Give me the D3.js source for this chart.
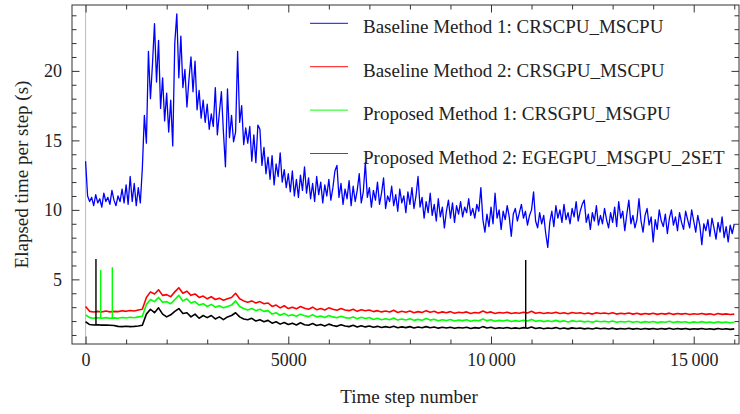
<!DOCTYPE html>
<html>
<head>
<meta charset="utf-8">
<script src="https://cdnjs.cloudflare.com/ajax/libs/d3/7.8.5/d3.min.js"></script>
<style>
  body { margin: 0; background: #fff; }
  text { font-family: "Liberation Serif", "Times New Roman", serif; fill: #222; }
</style>
</head>
<body>
<svg width="740" height="414"></svg>
<script>
// step spacing of the sampled series
var blueStep = 50, gpuStep = 100;

// Baseline Method 1 (CPU), one value every 50 steps
var blueValues = [
  13.5, 11.0, 10.6, 10.9, 10.3, 11.1, 10.5, 10.8, 10.2, 11.2, 10.6, 10.9, 10.4, 11.4, 10.7, 10.3, 11.0, 10.6, 11.5, 10.5,
  11.8, 10.4, 12.4, 10.6, 11.9, 10.3, 11.6, 10.5, 13.0, 16.8, 14.8, 21.4, 18.0, 20.5, 23.4, 19.2, 22.2, 17.3, 19.5, 16.4,
  18.4, 15.6, 17.9, 14.6, 22.0, 24.1, 19.5, 22.5, 18.8, 20.1, 17.4, 19.4, 21.0, 18.5, 20.7, 17.2, 18.6, 16.6, 17.9, 16.3,
  17.6, 15.8, 16.9, 16.0, 18.8, 15.4, 17.0, 18.5, 15.6, 13.1, 18.7, 15.2, 16.8, 14.9, 15.6, 21.4, 16.3, 17.5, 14.7, 15.9,
  14.8, 16.0, 13.5, 15.4, 13.4, 16.1, 15.8, 13.2, 14.5, 12.6, 13.8, 12.2, 13.9, 11.8, 13.3, 12.4, 14.1, 12.0, 12.9, 11.6,
  12.6, 11.3, 12.8, 11.0, 12.2, 10.9, 12.5, 11.4, 13.1, 11.2, 12.3, 10.8, 11.9, 10.6, 12.4, 11.1, 12.0, 10.5, 11.8, 11.0,
  12.2, 10.7, 11.6, 12.8, 13.2, 10.9, 11.9, 10.4, 11.5, 10.8, 12.1, 10.3, 11.7, 10.6, 11.4, 12.6, 10.5, 11.3, 13.4, 10.9,
  11.6, 10.2, 11.4, 10.7, 12.0, 10.4, 11.2, 12.3, 10.1, 11.0, 10.6, 11.7, 10.3, 11.1, 9.9, 11.5, 10.5, 11.0, 9.8, 11.3,
  10.4, 11.6, 10.1, 11.0, 12.4, 10.2, 10.9, 9.4, 10.6, 9.8, 11.2, 9.6, 10.4, 9.2, 10.8, 9.5, 10.2, 8.7, 9.9, 10.7,
  9.4, 10.5, 9.1, 10.3, 9.7, 10.6, 9.5, 10.2, 9.8, 10.8, 9.6, 10.1, 9.4, 10.4, 9.9, 11.6, 9.3, 8.4, 9.7, 8.8,
  10.2, 9.0, 11.2, 9.4, 10.0, 8.6, 9.9, 9.3, 10.3, 9.5, 8.1, 9.7, 10.1, 9.2, 9.8, 10.4, 9.4, 9.9, 8.9, 9.6,
  10.0, 11.3, 9.2, 8.7, 9.8, 9.0, 9.6, 8.3, 7.3, 9.1, 9.9, 8.8, 10.3, 9.4, 10.0, 9.1, 10.4, 9.3, 9.8, 9.0,
  10.1, 9.5, 10.6, 9.2, 9.9, 10.4, 10.7, 9.1, 9.7, 8.6, 9.8, 9.2, 10.3, 8.9, 9.6, 9.0, 10.1, 9.3, 8.7, 9.8,
  9.1, 10.2, 8.8, 10.6, 9.4, 9.9, 8.5, 9.7, 10.7, 9.0, 9.6, 8.7, 9.3, 10.8, 9.2, 8.4, 9.6, 10.1, 8.9, 9.5,
  7.7, 9.3, 8.6, 10.0, 9.2, 8.8, 9.7, 8.3, 9.4, 10.0, 8.9, 9.5, 8.5, 9.8, 9.1, 8.6, 9.9, 9.3, 8.7, 10.0,
  9.2, 8.4, 9.6, 8.9, 7.5, 9.0, 8.5, 9.3, 8.1, 9.4, 8.7, 7.9, 9.1, 8.4, 9.5, 8.0, 8.8, 7.7, 8.9, 8.3, 9.0
];

// Baseline Method 2, one value every 100 steps
var redValues = [
  3.05, 2.7, 2.65, 2.7, 2.65, 2.72, 2.66, 2.7, 2.68, 2.74, 2.7, 2.76, 2.72, 2.8, 2.85, 3.7, 4.1, 3.95, 4.25, 3.85,
  3.9, 3.75, 4.1, 4.4, 4.0, 4.15, 3.85, 3.95, 3.7, 3.8, 3.6, 3.75, 3.55, 3.65, 3.5, 3.6, 3.7, 4.0, 3.6, 3.45,
  3.35, 3.45, 3.3, 3.4, 3.25, 3.3, 3.05, 3.15, 2.95, 3.1, 2.9, 3.0, 2.88, 3.05, 2.92, 2.85, 3.0, 2.82, 2.9, 2.8,
  2.95, 2.85, 2.78, 2.9, 2.8, 2.75, 2.85, 2.7, 2.82, 2.74, 2.8, 2.68, 2.75, 2.66, 2.72, 2.65, 2.78, 2.62, 2.7, 2.64,
  2.72, 2.6, 2.68, 2.62, 2.75, 2.64, 2.7, 2.58, 2.66, 2.6, 2.68, 2.56, 2.64, 2.6, 2.66, 2.55, 2.62, 2.58, 2.72, 2.6,
  2.66, 2.55, 2.62, 2.58, 2.64, 2.54, 2.6, 2.56, 2.64, 2.58, 2.7, 2.56, 2.62, 2.54, 2.6, 2.56, 2.63, 2.55, 2.6, 2.52,
  2.62, 2.56, 2.6, 2.53, 2.58, 2.5, 2.6, 2.54, 2.58, 2.52, 2.6, 2.5, 2.56, 2.52, 2.58, 2.5, 2.56, 2.48, 2.55, 2.5,
  2.56, 2.48, 2.54, 2.5, 2.57, 2.48, 2.55, 2.5, 2.54, 2.47, 2.53, 2.49, 2.55, 2.48, 2.52, 2.46, 2.54, 2.48, 2.52, 2.47,
  2.5
];

// Proposed Method 1, one value every 100 steps
var greenValues = [
  2.45, 2.25, 2.2, 2.24, 2.2, 2.25, 2.2, 2.23, 2.2, 2.26, 2.22, 2.27, 2.24, 2.3, 2.35, 3.2, 3.55, 3.4, 3.7, 3.35,
  3.4, 3.25, 3.55, 3.85, 3.45, 3.6, 3.3, 3.4, 3.15, 3.25, 3.05, 3.2, 3.0, 3.1, 2.95, 3.05, 3.15, 3.45, 3.05, 2.9,
  2.8, 2.9, 2.75, 2.85, 2.7, 2.75, 2.5, 2.6, 2.42, 2.55, 2.38, 2.45, 2.35, 2.5, 2.38, 2.32, 2.45, 2.3, 2.36, 2.26,
  2.4, 2.3, 2.24, 2.35, 2.25, 2.2, 2.3, 2.16, 2.27, 2.18, 2.25, 2.12, 2.2, 2.1, 2.17, 2.1, 2.22, 2.07, 2.15, 2.08,
  2.16, 2.05, 2.12, 2.06, 2.18, 2.07, 2.13, 2.02, 2.1, 2.04, 2.11, 2.0, 2.08, 2.03, 2.1, 1.99, 2.06, 2.02, 2.15, 2.03,
  2.09, 1.98, 2.05, 2.0, 2.07, 1.97, 2.03, 1.99, 2.06, 2.0, 2.12, 1.98, 2.04, 1.96, 2.02, 1.97, 2.05, 1.96, 2.02, 1.94,
  2.03, 1.97, 2.01, 1.94, 1.99, 1.92, 2.01, 1.95, 1.99, 1.93, 2.0, 1.91, 1.97, 1.93, 1.99, 1.91, 1.97, 1.89, 1.96, 1.91,
  1.97, 1.89, 1.95, 1.91, 1.98, 1.89, 1.96, 1.91, 1.95, 1.88, 1.94, 1.9, 1.96, 1.89, 1.93, 1.87, 1.95, 1.89, 1.93, 1.88,
  1.92
];

// Proposed Method 2, one value every 100 steps
var blackValues = [
  1.95, 1.75, 1.72, 1.73, 1.71, 1.72, 1.7, 1.68, 1.62, 1.6, 1.63, 1.6, 1.62, 1.65, 1.7, 2.5, 2.85, 2.6, 2.95, 2.5,
  2.3, 2.45, 2.7, 2.9, 2.55, 2.6, 2.3, 2.5, 2.2, 2.4, 2.25, 2.4, 2.15, 2.3, 2.1, 2.3, 2.4, 2.6, 2.3, 2.15,
  2.1, 2.2, 2.0, 2.1, 1.95, 2.05, 1.85, 1.95, 1.78, 1.9, 1.75, 1.85, 1.72, 1.88, 1.74, 1.7, 1.82, 1.68, 1.76, 1.65,
  1.78, 1.68, 1.62, 1.74, 1.64, 1.6, 1.7, 1.57, 1.66, 1.58, 1.64, 1.55, 1.62, 1.54, 1.6, 1.54, 1.63, 1.52, 1.58, 1.53,
  1.6, 1.5, 1.57, 1.52, 1.6, 1.52, 1.57, 1.49, 1.55, 1.5, 1.56, 1.48, 1.54, 1.5, 1.56, 1.47, 1.53, 1.49, 1.6, 1.5,
  1.55, 1.47, 1.52, 1.48, 1.54, 1.46, 1.51, 1.47, 1.53, 1.48, 1.57, 1.46, 1.52, 1.45, 1.5, 1.46, 1.53, 1.45, 1.5, 1.44,
  1.51, 1.46, 1.5, 1.44, 1.48, 1.43, 1.5, 1.45, 1.48, 1.43, 1.49, 1.42, 1.47, 1.43, 1.48, 1.42, 1.47, 1.41, 1.46, 1.42,
  1.47, 1.41, 1.46, 1.42, 1.48, 1.41, 1.46, 1.42, 1.46, 1.4, 1.45, 1.42, 1.47, 1.41, 1.45, 1.4, 1.46, 1.41, 1.45, 1.4,
  1.44
];

// single-step spikes: [step, base value, peak value]
var greenSpikes = [[372, 2.22, 5.67], [659, 2.2, 5.88]];
var blackSpikes = [[256, 1.72, 6.46], [10856, 1.5, 6.4]];

var seriesNames = [
  "Baseline Method 1: CRSCPU_MSCPU",
  "Baseline Method 2: CRSGPU_MSCPU",
  "Proposed Method 1: CRSGPU_MSGPU",
  "Proposed Method 2: EGEGPU_MSGPU_2SET"
];
var seriesColors = ["#0000ff", "#ff0000", "#00ff00", "#000000"];
var legendColors = ["#3c3cff", "#ff3c3c", "#3cff3c", "#555555"];

var xMajorTicks = [0, 5000, 10000, 15000];
var xTickLabels = ["0", "5000", "10\u2009000", "15\u2009000"];
var yMajorTicks = [5, 10, 15, 20];
var yTickLabels = ["5", "10", "15", "20"];

function main() {
  var svg = d3.select("svg");
  var left = 72, right = 739, top = 5, bottom = 344;

  var x = d3.scaleLinear().domain([-335, 16117]).range([left, right]);
  var y = d3.scaleLinear().domain([0.35, 24.74]).range([bottom, top]);

  svg.append("defs").append("clipPath").attr("id", "plotclip")
    .append("rect").attr("x", left).attr("y", top)
    .attr("width", right - left).attr("height", bottom - top);

  // axis line at x = 0
  svg.append("line")
    .attr("x1", x(0)).attr("x2", x(0))
    .attr("y1", top).attr("y2", bottom)
    .attr("stroke", "#bbbbbb").attr("stroke-width", 1);

  var plot = svg.append("g").attr("clip-path", "url(#plotclip)");

  function drawSeries(values, step, color, width) {
    var line = d3.line()
      .x(function(d, i) { return x(i * step); })
      .y(function(d) { return y(d); });
    plot.append("path")
      .datum(values)
      .attr("fill", "none")
      .attr("stroke", color)
      .attr("stroke-width", width)
      .attr("stroke-linejoin", "round")
      .attr("d", line);
  }

  function drawSpikes(spikes, color) {
    plot.selectAll(null)
      .data(spikes)
      .enter()
      .append("line")
      .attr("x1", function(d) { return x(d[0]); })
      .attr("x2", function(d) { return x(d[0]); })
      .attr("y1", function(d) { return y(d[1]); })
      .attr("y2", function(d) { return y(d[2]); })
      .attr("stroke", color)
      .attr("stroke-width", 1.4);
  }

  drawSeries(blueValues, blueStep, seriesColors[0], 1.3);
  drawSeries(redValues, gpuStep, seriesColors[1], 1.6);
  drawSeries(greenValues, gpuStep, seriesColors[2], 1.6);
  drawSpikes(greenSpikes, seriesColors[2]);
  drawSeries(blackValues, gpuStep, seriesColors[3], 1.6);
  drawSpikes(blackSpikes, seriesColors[3]);

  // frame
  svg.append("rect")
    .attr("x", left).attr("y", top)
    .attr("width", right - left).attr("height", bottom - top)
    .attr("fill", "none").attr("stroke", "#333").attr("stroke-width", 1);

  var xMinor = d3.range(0, 16001, 1000).filter(function(v) { return xMajorTicks.indexOf(v) < 0; });
  var yMinor = d3.range(1, 25, 1).filter(function(v) { return yMajorTicks.indexOf(v) < 0; });

  function styleAxis(g) {
    g.select(".domain").remove();
    g.selectAll(".tick line").attr("stroke", "#333");
    g.selectAll(".tick text")
      .attr("fill", "#222")
      .attr("font-family", "Liberation Serif, Times New Roman, serif")
      .attr("font-size", "18px");
  }

  // bottom
  svg.append("g").attr("transform", "translate(0," + bottom + ")")
    .call(d3.axisBottom(x).tickValues(xMinor).tickSize(-4.5).tickFormat(""))
    .call(styleAxis);
  svg.append("g").attr("transform", "translate(0," + bottom + ")")
    .call(d3.axisBottom(x).tickValues(xMajorTicks).tickSize(-7.5).tickPadding(9)
      .tickFormat(function(d, i) { return xTickLabels[i]; }))
    .call(styleAxis);
  // top
  svg.append("g").attr("transform", "translate(0," + top + ")")
    .call(d3.axisTop(x).tickValues(xMinor).tickSize(-4.5).tickFormat(""))
    .call(styleAxis);
  svg.append("g").attr("transform", "translate(0," + top + ")")
    .call(d3.axisTop(x).tickValues(xMajorTicks).tickSize(-7.5).tickFormat(""))
    .call(styleAxis);
  // left
  svg.append("g").attr("transform", "translate(" + left + ",0)")
    .call(d3.axisLeft(y).tickValues(yMinor).tickSize(-4.5).tickFormat(""))
    .call(styleAxis);
  svg.append("g").attr("transform", "translate(" + left + ",0)")
    .call(d3.axisLeft(y).tickValues(yMajorTicks).tickSize(-7.5).tickPadding(10)
      .tickFormat(function(d, i) { return yTickLabels[i]; }))
    .call(styleAxis);
  // right
  svg.append("g").attr("transform", "translate(" + right + ",0)")
    .call(d3.axisRight(y).tickValues(yMinor).tickSize(-4.5).tickFormat(""))
    .call(styleAxis);
  svg.append("g").attr("transform", "translate(" + right + ",0)")
    .call(d3.axisRight(y).tickValues(yMajorTicks).tickSize(-7.5).tickFormat(""))
    .call(styleAxis);

  // axis titles
  svg.append("text")
    .attr("x", 409).attr("y", 403)
    .attr("text-anchor", "middle")
    .attr("font-size", "19px")
    .text("Time step number");
  svg.append("text")
    .attr("transform", "translate(27.5," + ((top + bottom) / 2) + ") rotate(-90)")
    .attr("text-anchor", "middle")
    .attr("font-size", "19px")
    .text("Elapsed time per step (s)");

  // legend
  var legend = svg.append("g");
  var rows = legend.selectAll("g").data(seriesNames).enter().append("g")
    .attr("transform", function(d, i) { return "translate(0," + (33.3 + i * 43.4) + ")"; });
  rows.append("line")
    .attr("x1", 310).attr("x2", 348)
    .attr("y1", -10).attr("y2", -10)
    .attr("stroke", function(d, i) { return legendColors[i]; })
    .attr("stroke-width", 1.2);
  rows.append("text")
    .attr("x", 363).attr("y", 0)
    .attr("font-size", "19px")
    .text(function(d) { return d; });
}
main();
</script>
</body>
</html>
